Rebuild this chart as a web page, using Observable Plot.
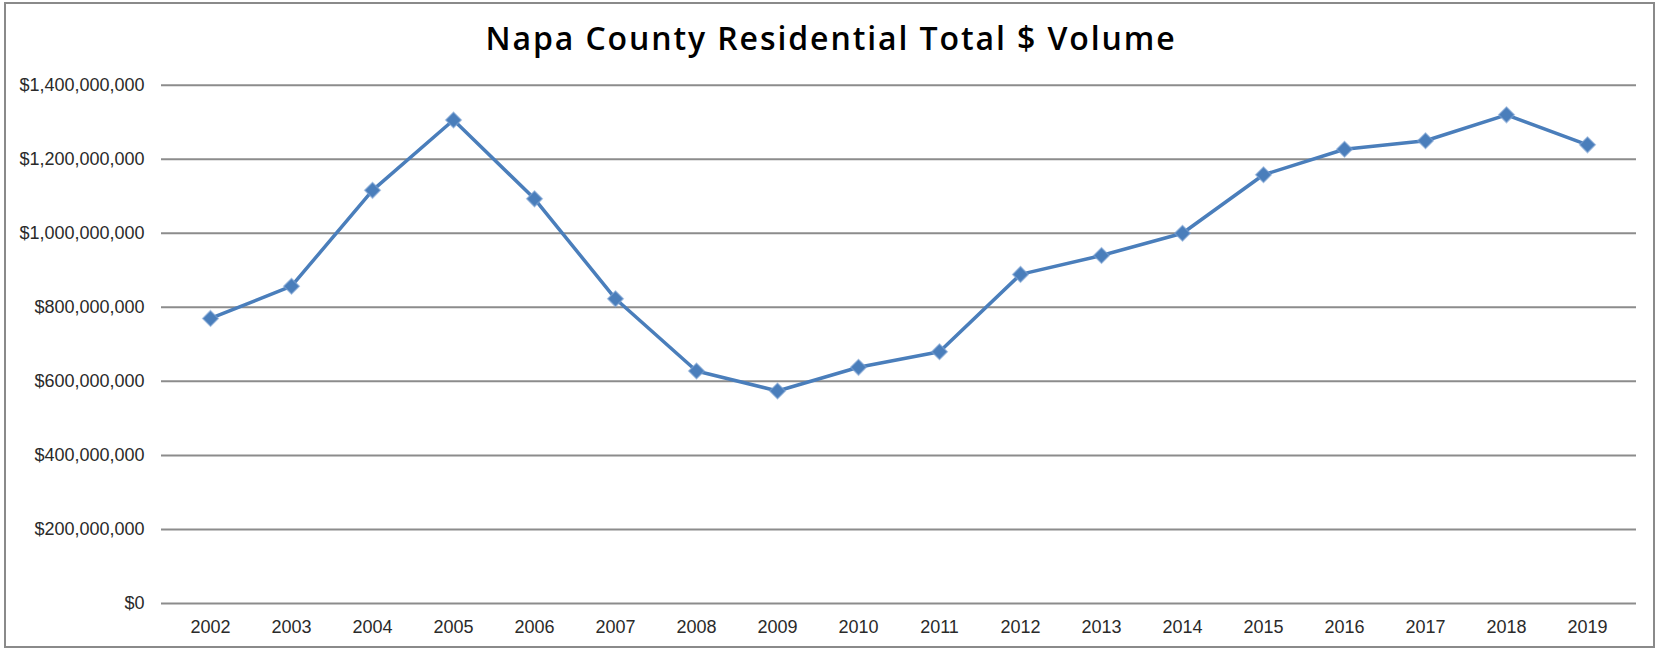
<!DOCTYPE html>
<html>
<head>
<meta charset="utf-8">
<script src="https://cdn.jsdelivr.net/npm/d3@7"></script>
<script src="https://cdn.jsdelivr.net/npm/@observablehq/plot@0.6"></script>
<style>
  html, body { margin: 0; padding: 0; background: #fff; }
  #wrap { position: relative; width: 1659px; height: 651px; overflow: hidden; }
  #border { position: absolute; left: 4px; top: 2px; width: 1651px; height: 646px; border: 2px solid #8a8a8a; box-sizing: border-box; }
  #title { position: absolute; left: 0; top: 19px; width: 1662px; text-align: center;
           font-family: "Open Sans", sans-serif; font-weight: 600; font-size: 32px; letter-spacing: 1.9px; line-height: 38px; color: #000; }
  #chart { position: absolute; left: 0; top: 0; }
</style>
</head>
<body>
<div id="wrap">
  <div id="border"></div>
  <div id="chart"></div>
  <div id="title">Napa County Residential Total $ Volume</div>
</div>
<script>
const years = ["2002","2003","2004","2005","2006","2007","2008","2009","2010","2011","2012","2013","2014","2015","2016","2017","2018","2019"];
const volumes = [770e6, 857e6, 1116e6, 1306e6, 1093e6, 823e6, 628e6, 574e6, 638e6, 680e6, 889e6, 940e6, 1000e6, 1158e6, 1227e6, 1250e6, 1320e6, 1239e6];
const yTicks = [0, 200e6, 400e6, 600e6, 800e6, 1000e6, 1200e6, 1400e6];

const data = years.map((y, i) => ({year: y, value: volumes[i]}));
const fmt = d => "$" + d3.format(",")(d);
const blue = "#4a7ebb";

const chart = Plot.plot({
  width: 1659,
  height: 651,
  marginTop: 84.7,
  marginBottom: 48,
  marginLeft: 161,
  marginRight: 23,
  style: { fontFamily: "'Liberation Sans', Arial, sans-serif", fontSize: "18px", color: "#2a2a2a", background: "transparent" },
  x: { type: "point", domain: years, padding: 0.5, label: null },
  y: { domain: [0, 1400e6], label: null },
  marks: [
    Plot.ruleY(yTicks, { stroke: "#8c8c8c", strokeWidth: 2 }),
    Plot.axisY({ ticks: yTicks, tickFormat: fmt, tickSize: 0, tickPadding: 17, label: null, fontSize: 18 }),
    Plot.axisX({ tickSize: 0, tickPadding: 17, label: null, fontSize: 18 }),
    Plot.line(data, { x: "year", y: "value", stroke: blue, strokeWidth: 3.5 }),
    Plot.dot(data, { x: "year", y: "value", symbol: "diamond2", r: 7, fill: blue, stroke: "#7aa0d2", strokeWidth: 1.5, strokeOpacity: 0.6 })
  ]
});
document.getElementById("chart").appendChild(chart);
</script>
</body>
</html>
